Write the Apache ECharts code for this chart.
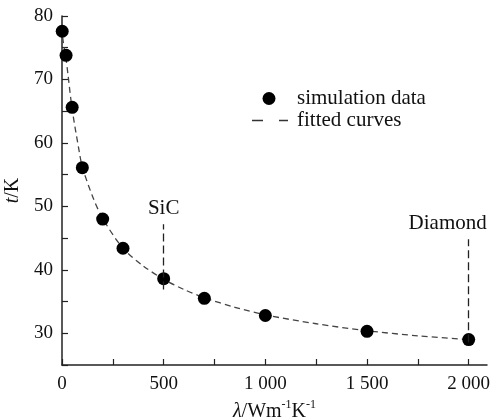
<!DOCTYPE html>
<html>
<head>
<meta charset="utf-8">
<script src="https://cdn.jsdelivr.net/npm/echarts@6/dist/echarts.min.js"></script>
<style>
  html, body { margin: 0; padding: 0; background: #fff; }
  #main { width: 490px; height: 420px; }
</style>
</head>
<body>
<div id="main"></div>
<script>
// simulation points (thermal conductivity vs temperature rise)
var simLambda = [1, 20, 50, 100, 200, 300, 500, 700, 1000, 1500, 2000];
var simT = [77.6, 73.8, 65.6, 56.1, 48.0, 43.4, 38.6, 35.5, 32.8, 30.3, 29.0];

// points
var fitLambda = [1, 5, 20, 30, 50, 85, 100, 150, 200, 300, 400, 500, 600, 700, 850, 1000, 1250, 1500, 1750, 2000];
var fitT = [78.2, 76.2, 73.2, 70.6, 65.3, 58.6, 56.2, 51.6, 48.1, 43.4, 40.6, 38.5, 36.9, 35.6, 34.1, 32.9, 31.5, 30.4, 29.6, 29.0];

// material markers: name, lambda, dashed line from / to
var markNames = ['SiC', 'Diamond'];
var markLambda = [500, 2000];
var markFrom = [36.9, 28.6];
var markTo = [47.2, 44.8];

var xTicks = [0, 250, 500, 750, 1000, 1250, 1500, 1750, 2000];
var xLabels = [0, 500, 1000, 1500, 2000];

var font = 'Liberation Serif';
// two short dashes for the legend (corner dots only fix the box size)
var dashIcon = 'path://M0,0H0.01V0.01H0Z M46,13H45.99V12.99H46Z M6,5.8H17V7.2H6Z M33,5.8H42V7.2H33Z';

var markData = markNames.map(function (n, i) {
    var start = { coord: [markLambda[i], markFrom[i]], name: n };
    // Diamond label sits left of its line, as in the figure
    if (n === 'Diamond') start.label = { offset: [-21, 0] };
    return [start, { coord: [markLambda[i], markTo[i]] }];
});

var myChart = echarts.init(document.getElementById('main'));
myChart.setOption({
    animation: false,
    backgroundColor: '#fff',
    textStyle: { fontFamily: font },
    grid: { left: 62, right: 3, top: 16, bottom: 55, containLabel: false, outerBoundsMode: 'none' },
    legend: {
        orient: 'vertical',
        left: 241,
        top: 83,
        itemWidth: 46,
        itemHeight: 13,
        itemGap: 1,
        textStyle: { fontFamily: font, fontSize: 21, color: '#111' },
        data: [
            { name: 'simulation data', icon: 'circle', itemStyle: { color: '#000', opacity: 1 } },
            { name: 'fitted curves', icon: dashIcon, itemStyle: { color: '#333' } }
        ]
    },
    xAxis: {
        type: 'value',
        min: 0,
        max: 2090,
        interval: 250,
        splitLine: { show: false },
        axisLine: { lineStyle: { color: '#222', width: 1.5 } },
        axisTick: { inside: true, length: 6, customValues: xTicks, lineStyle: { color: '#222', width: 1.2 } },
        axisLabel: {
            customValues: xLabels,
            fontFamily: font, fontSize: 19, color: '#111', margin: 10,
            formatter: function (v) {
                return v >= 1000 ? String(v).replace(/(\d)(\d{3})$/, '$1 $2') : String(v);
            }
        },
        name: '{i|λ}/Wm{s|-1}K{s|-1}',
        nameLocation: 'middle',
        nameGap: 26,
        nameTextStyle: {
            fontFamily: font, fontSize: 20, color: '#111',
            rich: {
                i: { fontFamily: font, fontSize: 20, fontStyle: 'italic', color: '#111' },
                s: { fontFamily: font, fontSize: 12, color: '#111', verticalAlign: 'top', lineHeight: 26 }
            }
        }
    },
    yAxis: {
        type: 'value',
        min: 25,
        max: 80,
        interval: 5,
        splitLine: { show: false },
        axisLine: { show: true, lineStyle: { color: '#222', width: 1.5 } },
        axisTick: { show: true, inside: true, length: 6, lineStyle: { color: '#222', width: 1.2 } },
        axisLabel: {
            fontFamily: font, fontSize: 19, color: '#111', margin: 9,
            formatter: function (v) { return v % 10 === 0 ? String(v) : ''; }
        },
        name: '{i|t}/K',
        nameLocation: 'middle',
        nameGap: 38,
        nameTextStyle: {
            fontFamily: font, fontSize: 20, color: '#111',
            rich: { i: { fontFamily: font, fontSize: 20, fontStyle: 'italic', color: '#111' } }
        }
    },
    series: [{
        name: 'fitted curves',
        type: 'line',
        smooth: 0.3,
        symbol: 'none',
        z: 2,
        lineStyle: { color: '#444', width: 1.3, type: [6, 4] },
        itemStyle: { color: '#444' },
        data: fitLambda.map(function (x, i) { return [x, fitT[i]]; }),
        markLine: {
            silent: true,
            symbol: 'none',
            lineStyle: { color: '#222', width: 1.3, type: [8, 4] },
            label: {
                show: true,
                position: 'end',
                formatter: '{b}',
                fontFamily: font, fontSize: 21, color: '#111', distance: 5
            },
            data: markData
        }
    }, {
        name: 'simulation data',
        type: 'scatter',
        symbolSize: 13,
        z: 3,
        clip: true,
        itemStyle: { color: '#000', opacity: 1 },
        data: simLambda.map(function (x, i) { return [x, simT[i]]; })
    }]
});
</script>
</body>
</html>
